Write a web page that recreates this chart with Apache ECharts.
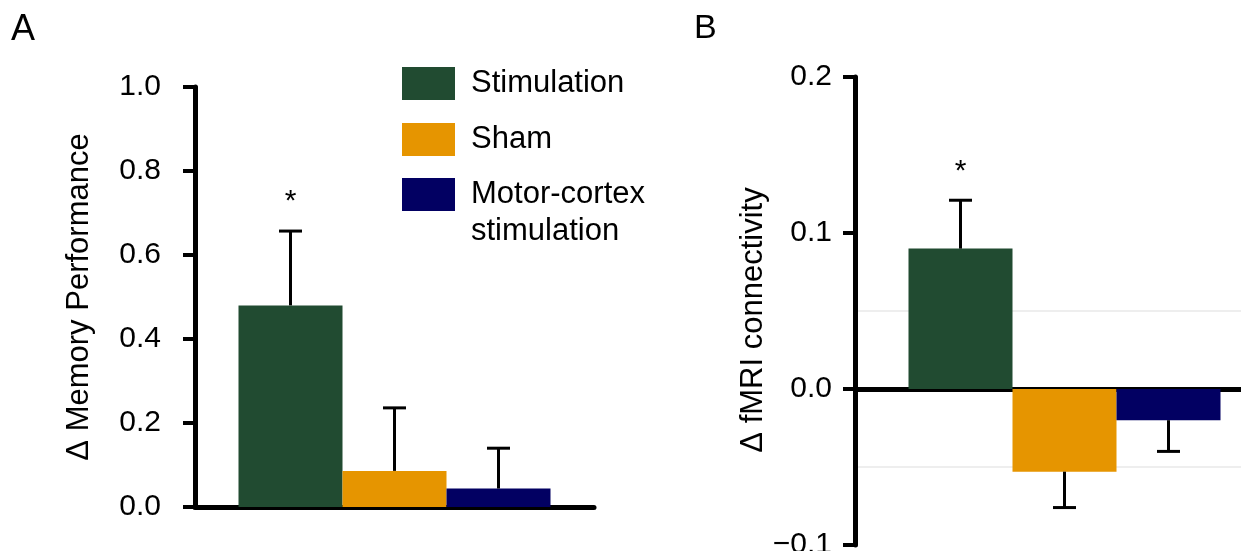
<!DOCTYPE html>
<html>
<head>
<meta charset="utf-8">
<script src="https://cdn.jsdelivr.net/npm/echarts@6/dist/echarts.min.js"></script>
<style>
  html, body { margin: 0; padding: 0; background: #fff; }
  #main { width: 1241px; height: 551px; }
</style>
</head>
<body>
<div id="main"></div>
<script>
// groups and values
var groups = ['Stimulation', 'Sham', 'Motor-cortex\nstimulation'];
var colors = ['#214b31', '#e69500', '#020062'];
var memMean = [0.48, 0.086, 0.044];     // panel A
var memErr = [0.177, 0.150, 0.096];
var fmriMean = [0.090, -0.053, -0.020]; // panel B
var fmriErr = [0.031, 0.023, 0.020];
var sigMark = ['*', '', ''];
var fmriGrid = [0.05, -0.05];            // faint guide lines in B

var FONT = 'Liberation Sans';
var BAR_W = 104;

var myChart = echarts.init(document.getElementById('main'));

function fmtTick(v) {
    var s = Math.abs(v).toFixed(1);
    return v < -1e-9 ? '\u2212' + s : s;
}

// error bar + significance star, offset to sit on each bar
function errRender(params, api) {
    var idx = api.value(3);
    var mean = api.value(1), err = api.value(2);
    var top = mean >= 0 ? mean + err : mean - err;
    var p0 = api.coord([api.value(0), mean]);
    var p1 = api.coord([api.value(0), top]);
    var x = p0[0] + (idx - 1) * BAR_W;
    var kids = [
        { type: 'line', shape: { x1: x, y1: p0[1], x2: x, y2: p1[1] }, style: { stroke: '#000', lineWidth: 3 } },
        { type: 'line', shape: { x1: x - 11.5, y1: p1[1], x2: x + 11.5, y2: p1[1] }, style: { stroke: '#000', lineWidth: 3 } }
    ];
    if (sigMark[idx]) {
        kids.push({ type: 'text', x: x, y: p1[1] - 29, style: { text: sigMark[idx], font: '30px "' + FONT + '"', fill: '#000', align: 'center', verticalAlign: 'middle' } });
    }
    return { type: 'group', children: kids };
}

function yAxisBase(gi, name, min, max, interval, gap, margin, namePad) {
    return {
        gridIndex: gi, type: 'value', min: min, max: max, interval: interval,
        name: name, nameLocation: 'middle', nameGap: gap,
        nameTextStyle: { fontFamily: FONT, fontSize: 31, color: '#000', padding: namePad },
        axisLine: { show: true, lineStyle: { color: '#000', width: 5 } },
        axisTick: { show: true, length: 12, lineStyle: { color: '#000', width: 4 } },
        axisLabel: { fontFamily: FONT, fontSize: 30, color: '#000', margin: margin, formatter: fmtTick },
        splitLine: { show: false }
    };
}

function xAxisBase(gi) {
    return {
        gridIndex: gi, type: 'category', data: ['all'],
        axisLine: { show: true, onZero: true, lineStyle: { color: '#000', width: 5 } },
        axisTick: { show: false }, axisLabel: { show: false }
    };
}

var series = [];
groups.forEach(function (g, i) {
    series.push({
        name: g, type: 'bar', xAxisIndex: 0, yAxisIndex: 0,
        barWidth: BAR_W, barGap: '0%', z: 2,
        itemStyle: { color: colors[i] },
        data: [memMean[i]]
    });
    series.push({
        name: g, type: 'bar', xAxisIndex: 1, yAxisIndex: 1,
        barWidth: BAR_W, barGap: '0%', z: 2,
        itemStyle: { color: colors[i] },
        data: [fmriMean[i]]
    });
});

series.push({
    type: 'line', xAxisIndex: 1, yAxisIndex: 1, data: [], z: 0, silent: true,
    markLine: {
        silent: true, symbol: 'none', label: { show: false }, z: 0,
        lineStyle: { color: '#eeeeee', width: 2, type: 'solid' },
        data: fmriGrid.map(function (v) { return { yAxis: v }; })
    }
});

series.push({
    type: 'custom', xAxisIndex: 0, yAxisIndex: 0, z: 5, renderItem: errRender,
    data: memMean.map(function (m, i) { return [0, m, memErr[i], i]; })
});
series.push({
    type: 'custom', xAxisIndex: 1, yAxisIndex: 1, z: 5, renderItem: errRender,
    data: fmriMean.map(function (m, i) { return [0, m, fmriErr[i], i]; })
});

var option = {
    animation: false,
    backgroundColor: '#fff',
    textStyle: { fontFamily: FONT },
    title: [
        { text: 'A', left: 11, top: 12, padding: 0, textStyle: { fontFamily: FONT, fontSize: 36, fontWeight: 'normal', color: '#000' } },
        { text: 'B', left: 694, top: 12, padding: 0, textStyle: { fontFamily: FONT, fontSize: 34, fontWeight: 'normal', color: '#000' } }
    ],
    legend: [{
        orient: 'vertical', left: 402, top: 67, padding: 0,
        itemWidth: 53, itemHeight: 33, itemGap: 23, icon: 'rect',
        selectedMode: false,
        textStyle: { fontFamily: FONT, fontSize: 31, color: '#000', lineHeight: 33, padding: [0, 0, 0, 11] },
        data: [groups[0], groups[1]]
    }, {
        // two-line entry: a blank leading line keeps "Motor-cortex" level with the swatch
        orient: 'vertical', left: 402, top: 139, padding: 0,
        itemWidth: 53, itemHeight: 33, icon: 'rect',
        selectedMode: false,
        formatter: function (name) { return '\n' + name; },
        textStyle: { fontFamily: FONT, fontSize: 31, color: '#000', lineHeight: 37, padding: [0, 0, 0, 11] },
        data: [groups[2]]
    }],
    grid: [
        { left: 195, top: 87, width: 399, height: 420, outerBoundsMode: 'none' },
        { left: 855, top: 77, width: 419, height: 468, outerBoundsMode: 'none' }
    ],
    xAxis: [xAxisBase(0), xAxisBase(1)],
    yAxis: [
        yAxisBase(0, '\u0394 Memory Performance', 0, 1, 0.2, 100, 34, 0),
        yAxisBase(1, '\u0394 fMRI connectivity', -0.1, 0.2, 0.1, 81, 23, [0, 18, 0, 0])
    ],
    series: series
};

myChart.setOption(option);
</script>
</body>
</html>
